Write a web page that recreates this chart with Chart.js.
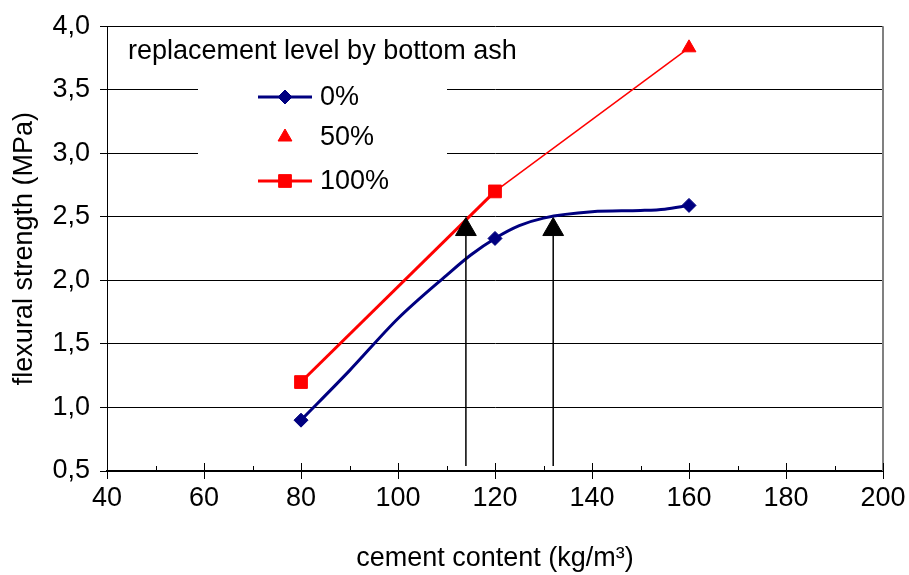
<!DOCTYPE html>
<html>
<head>
<meta charset="utf-8">
<script src="https://cdn.jsdelivr.net/npm/chart.js@4/dist/chart.umd.min.js"></script>
<style>
  body { margin: 0; background: #fff; }
  #wrap { width: 909px; height: 575px; }
</style>
</head>
<body>
<div id="wrap"><canvas id="chart"></canvas></div>
<script>
// data
const xMin = 40, xMax = 200, xStep = 20;
const yMin = 0.5, yMax = 4.0, yStep = 0.5;

const cement0 = [80, 90, 100, 110, 115, 120, 125, 130, 140, 150, 155, 160];
const strength0 = [0.90, 1.29, 1.70, 2.04, 2.20, 2.33, 2.43, 2.49, 2.54, 2.55, 2.56, 2.59];
const marked0 = [80, 120, 160];

const cement50 = [120, 160];
const strength50 = [2.70, 3.83];

const cement100 = [80, 120];
const strength100 = [1.20, 2.70];

const arrowX = [114, 132];
const arrowFrom = 0.54;
const arrowTo = 2.40;

const legendTitle = "replacement level by bottom ash";
const seriesLabels = ["0%", "50%", "100%"];
const legendLine = [true, false, true];

const FONT = '"Liberation Sans", Arial, sans-serif';
const NAVY = "#000080";
const RED = "#ff0000";

const zip = (xs, ys) => xs.map((x, i) => ({ x: x, y: ys[i] }));

const arrowSets = arrowX.map(x => ({
  label: "arrow",
  data: [{ x: x, y: arrowFrom }, { x: x, y: arrowTo }],
  borderColor: "#000",
  borderWidth: 1.5,
  pointRadius: [0, 12],
  pointStyle: "triangle",
  pointBackgroundColor: "#000",
  pointBorderColor: "#000",
  pointBorderWidth: 1,
}));

const series = [
  {
    label: seriesLabels[0],
    data: zip(cement0, strength0),
    borderColor: NAVY,
    borderWidth: 3,
    cubicInterpolationMode: "monotone",
    pointRadius: cement0.map(c => marked0.includes(c) ? 7 : 0),
    pointStyle: "rectRot",
    pointBackgroundColor: NAVY,
    pointBorderColor: NAVY,
    pointBorderWidth: 1,
  },
  {
    label: seriesLabels[1],
    data: zip(cement50, strength50),
    borderColor: RED,
    borderWidth: 1.5,
    pointRadius: [0, 8],
    pointStyle: "triangle",
    pointBackgroundColor: RED,
    pointBorderColor: RED,
    pointBorderWidth: 1,
  },
  {
    label: seriesLabels[2],
    data: zip(cement100, strength100),
    borderColor: RED,
    borderWidth: 3,
    pointRadius: 9,
    pointStyle: "rect",
    pointBackgroundColor: RED,
    pointBorderColor: RED,
    pointBorderWidth: 1,
  },
];

const framePlugin = {
  id: "frame",
  beforeDatasetsDraw(chart) {
    const ctx = chart.ctx;
    const a = chart.chartArea;
    ctx.save();
    // white legend box hiding the grid
    ctx.fillStyle = "#fff";
    ctx.fillRect(198, 66, 249, 134);
    // grey right edge
    ctx.strokeStyle = "#808080";
    ctx.lineWidth = 2;
    ctx.beginPath();
    ctx.moveTo(a.right, a.top);
    ctx.lineTo(a.right, a.bottom);
    ctx.stroke();
    ctx.restore();
  },
  afterDatasetsDraw(chart) {
    const ctx = chart.ctx;
    const xs = chart.scales.x;
    const yb = chart.chartArea.bottom;
    ctx.save();
    ctx.strokeStyle = "#000";
    ctx.lineWidth = 1;
    for (let v = xMin; v <= xMax; v += xStep / 2) {
      const px = Math.round(xs.getPixelForValue(v)) + 0.5;
      const len = (v - xMin) % xStep === 0 ? 8 : 5;
      ctx.beginPath();
      ctx.moveTo(px, yb - len);
      ctx.lineTo(px, yb);
      ctx.stroke();
    }

    // legend
    ctx.fillStyle = "#000";
    ctx.font = "27px " + FONT;
    ctx.textBaseline = "middle";
    ctx.textAlign = "left";
    ctx.fillText(legendTitle, 128, 52);
    const rows = [97, 137, 181];
    series.forEach((ds, i) => {
      const y = rows[i];
      if (legendLine[i]) {
        ctx.strokeStyle = ds.borderColor;
        ctx.lineWidth = 3;
        ctx.beginPath();
        ctx.moveTo(258, y);
        ctx.lineTo(312, y);
        ctx.stroke();
      }
      ctx.fillStyle = ds.pointBackgroundColor;
      ctx.strokeStyle = ds.pointBorderColor;
      ctx.lineWidth = 1;
      const r = Array.isArray(ds.pointRadius) ? Math.max(...ds.pointRadius) : ds.pointRadius;
      Chart.helpers.drawPoint(ctx, { pointStyle: ds.pointStyle, rotation: 0, radius: r, borderWidth: 1 }, 285, y);
      ctx.fillStyle = "#000";
      ctx.fillText(ds.label, 320, y + 1);
    });
    ctx.restore();
  }
};

new Chart(document.getElementById("chart"), {
  type: "line",
  data: { datasets: [...arrowSets, ...series] },
  options: {
    responsive: true,
    maintainAspectRatio: false,
    animation: false,
    events: [],
    layout: { padding: { top: 22, right: 26, left: 0, bottom: 0 } },
    plugins: {
      legend: { display: false },
      tooltip: { enabled: false },
    },
    scales: {
      x: {
        type: "linear",
        min: xMin,
        max: xMax,
        afterFit: s => { s.height = 104; },
        ticks: {
          stepSize: xStep,
          color: "#000",
          font: { family: FONT, size: 27 },
          padding: 3,
          maxRotation: 0,
        },
        grid: { drawOnChartArea: false, drawTicks: true, tickLength: 8, color: "#000" },
        border: { color: "#000", width: 2 },
        title: {
          display: true,
          text: "cement content (kg/m³)",
          color: "#000",
          font: { family: FONT, size: 27 },
          padding: { top: 0, bottom: 0 },
        },
      },
      y: {
        min: yMin,
        max: yMax,
        afterFit: s => { s.width = 107; },
        ticks: {
          stepSize: yStep,
          color: "#000",
          font: { family: FONT, size: 27 },
          padding: 10,
          callback: v => v.toFixed(1).replace(".", ","),
        },
        grid: { color: "#000", lineWidth: 1, tickLength: 7 },
        border: { color: "#000", width: 1 },
        title: {
          display: true,
          text: "flexural strength (MPa)",
          color: "#000",
          font: { family: FONT, size: 27 },
          padding: { top: 8, bottom: 0 },
        },
      },
    },
  },
  plugins: [framePlugin],
});
</script>
</body>
</html>
